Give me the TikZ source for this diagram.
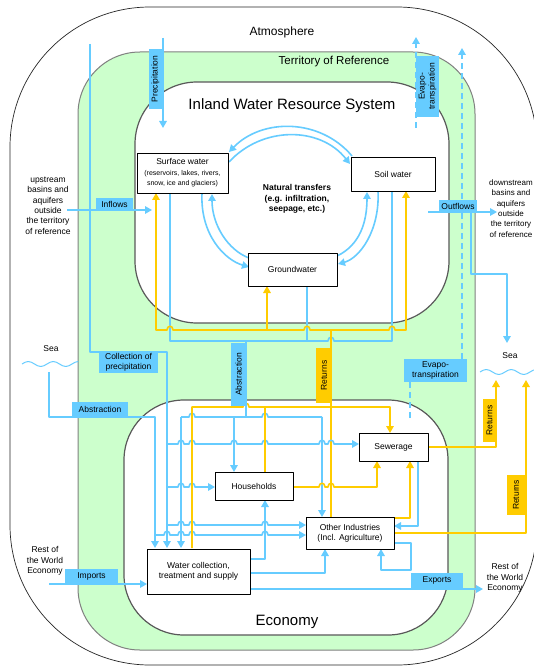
\documentclass[tikz,border=0pt]{standalone}
\usepackage{fontspec}
\setmainfont{Liberation Sans}
\usetikzlibrary{arrows.meta}
\definecolor{lb}{RGB}{102,204,255}
\definecolor{yl}{RGB}{255,204,0}
\definecolor{gr}{RGB}{204,255,204}
\newcommand\hp[2]{-- ({#1-3},#2) .. controls ({#1-3},{#2-5}) and ({#1+3},{#2-5}) .. ({#1+3},#2)}
\newcommand\hpl[2]{-- ({#1+3},#2) .. controls ({#1+3},{#2-5}) and ({#1-3},{#2-5}) .. ({#1-3},#2)}
\begin{document}
\begin{tikzpicture}[x=1pt,y=-1pt,
 bl/.style={draw=lb, line width=1.6pt},
 yw/.style={draw=yl, line width=1.6pt},
 tip/.style={-{Triangle[length=7pt,width=7.5pt]}},
 box/.style={draw=black, fill=white, line width=0.8pt, inner sep=0pt, align=center, font=\fontsize{8.5pt}{10.4pt}\selectfont},
 lab/.style={fill=lb, inner sep=0pt, align=center, font=\fontsize{8.5pt}{10pt}\selectfont},
 rlab/.style={fill=yl, inner sep=0pt, align=center, font=\fontsize{8.5pt}{10pt}\selectfont},
 txt/.style={inner sep=0pt, align=center, font=\fontsize{8.5pt}{10.4pt}\selectfont},
 dsh/.style={draw=lb, line width=1.6pt, dash pattern=on 6pt off 4pt},
 wave/.style={draw=lb, line width=1pt},
 line join=round]

\useasboundingbox (0,0) rectangle (534,668);
\fill[white] (0,0) rectangle (534,668);
% regions
\draw[black!85, line width=0.7pt, rounded corners=140pt] (10,7) rectangle (537,665);
\draw[gray, line width=1pt, fill=gr, rounded corners=62pt] (78,52) rectangle (475,650);
\draw[gray!70!black, line width=1.2pt, fill=white, rounded corners=62pt] (135,82) rectangle (449,323);
\draw[gray!70!black, line width=1.2pt, fill=white, rounded corners=60pt] (124,400) rectangle (448,635);

% titles
\node[inner sep=0pt, font=\fontsize{12pt}{14pt}\selectfont] (atm) at (282,32) {Atmosphere};
\node[inner sep=0pt, font=\fontsize{11.5pt}{13pt}\selectfont] (ter) at (334,62) {Territory of Reference};
\node[inner sep=0pt, font=\fontsize{15pt}{17pt}\selectfont] (iwrs) at (292,106) {Inland Water Resource System};
\node[inner sep=0pt, font=\fontsize{15pt}{17pt}\selectfont] (eco) at (287,622) {Economy};
\node[txt, font=\bfseries\fontsize{8.5pt}{10.6pt}\selectfont] (nat) at (297,199) {Natural transfers\\(e.g. infiltration,\\seepage, etc.)};

% side texts
\node[txt] (up) at (48,205.5) {upstream\\basins and\\aquifers\\outside\\the territory\\of reference};
\node[txt, font=\fontsize{8pt}{10.4pt}\selectfont] (down) at (511,208.5) {downstream\\basins and\\aquifers\\outside\\the territory\\of reference};
\node[txt] (seaL) at (51,349) {Sea};
\node[txt] (seaR) at (510,356) {Sea};
\node[txt] (rowL) at (45,561) {Rest of\\the World\\Economy};
\node[txt] (rowR) at (505,578) {Rest of\\the World\\Economy};

% waves
\draw[wave] (22,364) sin (28.25,361.5) cos (34.5,364) sin (40.75,366.5) cos (47,364) sin (53.25,361.5) cos (59.5,364) sin (65.75,366.5) cos (72,364) sin (78.25,361.5);
\draw[wave] (480,372) sin (486.25,369.5) cos (492.5,372) sin (498.75,374.5) cos (505,372) sin (511.25,369.5) cos (517.5,372) sin (523.75,374.5) cos (530,372) sin (536.25,369.5);

% ---- connectors: inland system
\draw[bl,tip] (163,38) -- (163,128);
\draw[dsh,tip] (416,128) -- (416,37);
\draw[bl,tip] (352,156) .. controls (320,118) and (262,118) .. (229,152);
\draw[bl,tip] (229,162) .. controls (262,126) and (320,126) .. (350,164);
\draw[bl,tip] (202,193) .. controls (200,235) and (225,260) .. (249,267);
\draw[bl,tip] (249,258) .. controls (228,250) and (212,225) .. (212,194);
\draw[bl,tip] (337,256) .. controls (360,245) and (367,222) .. (367,192);
\draw[bl,tip] (378,191) .. controls (380,230) and (360,258) .. (338,264);

\draw[bl,tip] (67,210) -- (152,210);
\draw[bl,tip] (428,212) -- (497,212);
\draw[bl,tip] (471,212) -- (471,274) -- (507,274) -- (507,343);

% blue abstraction collector
\draw[bl] (170,193) -- (170,341) \hp{331}{341} -- (392,341) -- (392,191);
\draw[bl] (307,286) -- (307,341);
\draw[bl] (246,341) -- (246,417);

% yellow returns collector
\draw[yw] (331,517) -- (331,330);
\draw[yw,tip] (267,330) -- (267,286);
\draw[yw,tip] (331,330) \hp{392}{330} -- (406,330) -- (406,191);
\draw[yw,tip] (331,330) \hpl{307}{330} \hpl{170}{330} -- (156,330) -- (156,193);

% evapotranspiration from economy
\draw[dsh] (410,418) -- (410,382);
\draw[dsh,tip] (462,359) -- (462,48);

% ---- economy
% collection of precipitation
\draw[bl,tip] (90,44) -- (90,352) -- (167,352) -- (167,548);
\draw[bl,tip] (167,444) \hp{181}{444} \hp{192}{444} \hp{234}{444} \hp{265}{444} \hp{322}{444} \hp{331}{444} -- (359,444);
\draw[bl,tip] (167,487) \hp{181}{487} \hp{192}{487} -- (215,487);
\draw[bl,tip] (167,525) \hp{181}{525} \hp{192}{525} \hp{265}{525} -- (306,525);
% sea abstraction
\draw[bl,tip] (49,372) -- (49,417) -- (155,417) -- (155,548);
\draw[bl,tip] (155,535) \hp{167}{535} \hp{181}{535} \hp{192}{535} \hp{265}{535} -- (306,535);
% inland abstraction distribution
\draw[bl] (181,417) \hp{192}{417} \hp{265}{417} -- (322,417);
\draw[bl,tip] (181,417) -- (181,548);
\draw[bl,tip] (234,417) -- (234,472);
\draw[bl,tip] (322,417) -- (322,517);
% water collection outputs
\draw[bl,tip] (250,559) -- (265,559) -- (265,500);
\draw[bl,tip] (250,573) -- (325,573) -- (325,549);
\draw[bl,tip] (250,589) -- (483,589);
\draw[bl,tip] (49,584) -- (147,584);
% other industries loop, sewerage to industries
\draw[bl,tip] (394,543) -- (411,543) -- (411,570) -- (381,570) -- (381,549);
\draw[bl,tip] (418,461) -- (418,526) -- (394,526);
% yellow wastewater
\draw[yw,tip] (192,548) -- (192,407) \hp{246}{407} -- (390,407) -- (390,433);
\draw[yw] (265,472) -- (265,407);
\draw[yw,tip] (293,487) \hp{322}{487} \hp{331}{487} -- (377,487) -- (377,461);
\draw[yw,tip] (394,518) -- (410,518) -- (410,461);
\draw[yw,tip] (428,447) -- (496,447) -- (496,380);
\draw[yw,tip] (394,533) -- (526,533) -- (526,380);

% labels
\node[lab, rotate=90, minimum width=60pt, minimum height=14pt] (prec) at (155.5,79) {Precipitation};
\node[lab, rotate=90, minimum width=61pt, minimum height=23pt] (evt) at (427.5,86.5) {Evapo-\\transpiration};
\node[lab, minimum width=37pt, minimum height=12pt] (infl) at (114.5,204) {Inflows};
\node[lab, minimum width=38pt, minimum height=12pt] (outf) at (458,206) {Outflows};
\node[lab, minimum width=59pt, minimum height=21pt] (colp) at (128.5,362.5) {Collection of\\precipitation};
\node[lab, minimum width=56pt, minimum height=16pt] (absl) at (100,409.5) {Abstraction};
\node[lab, rotate=90, minimum width=63pt, minimum height=16pt] (absv) at (238.5,374.5) {Abstraction};
\node[rlab, rotate=90, minimum width=55pt, minimum height=16pt] (retm) at (324,375.5) {Returns};
\node[lab, minimum width=63pt, minimum height=23pt] (evl) at (435.5,370.5) {Evapo-\\transpiration};
\node[rlab, rotate=90, minimum width=43pt, minimum height=14pt] (ret1) at (489.5,420.5) {Returns};
\node[rlab, rotate=90, minimum width=40pt, minimum height=19pt] (ret2) at (516,495) {Returns};
\node[lab, minimum width=53pt, minimum height=15pt] (imp) at (91.5,576) {Imports};
\node[lab, minimum width=52pt, minimum height=16pt] (exp) at (437,580.5) {Exports};

% boxes
\node[box, minimum width=91pt, minimum height=40pt] (surf) at (182.5,173) {Surface water\\{\fontsize{7pt}{8pt}\selectfont (reservoirs, lakes, rivers,}\\{\fontsize{7pt}{8pt}\selectfont snow, ice and glaciers)}};
\node[box, minimum width=84pt, minimum height=34pt] (soil) at (393,174) {Soil water};
\node[box, minimum width=89pt, minimum height=33pt] (gw) at (292.5,269.5) {Groundwater};
\node[box, minimum width=69pt, minimum height=28pt] (sew) at (393.5,447) {Sewerage};
\node[box, minimum width=78pt, minimum height=28pt] (hh) at (254,486) {Households};
\node[box, minimum width=88pt, minimum height=32pt] (oi) at (350,533) {Other Industries\\(Incl. Agriculture)};
\node[box, minimum width=103pt, minimum height=45pt] (wc) at (198.5,571.5) {Water collection,\\treatment and supply};
\end{tikzpicture}
\end{document}
